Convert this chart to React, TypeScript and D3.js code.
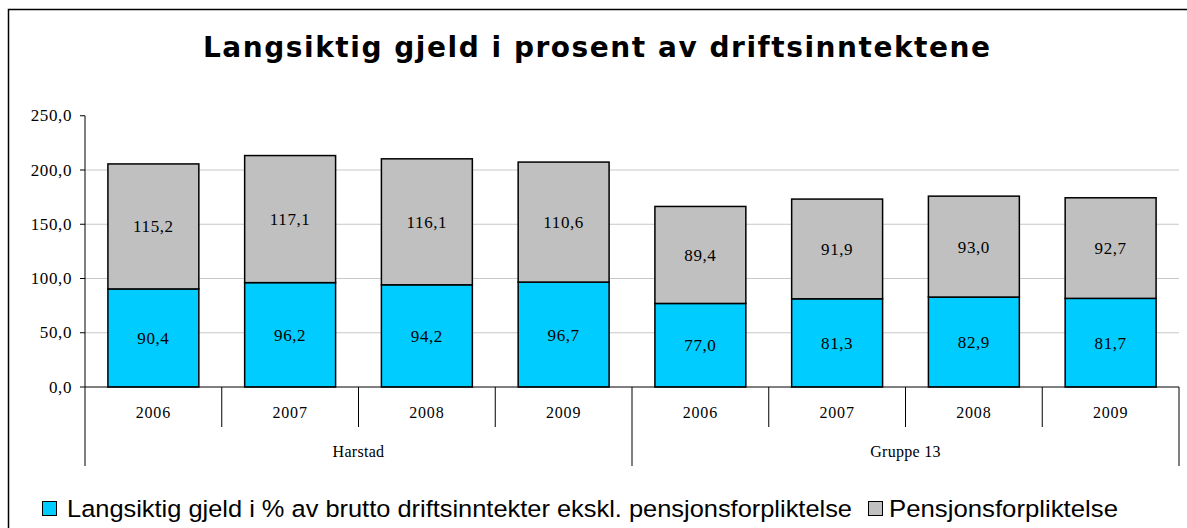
import React from "react";
import * as d3 from "d3";

const groups = ["Harstad", "Gruppe 13"];
const years = ["2006", "2007", "2008", "2009"];
const blueValues = [90.4, 96.2, 94.2, 96.7, 77.0, 81.3, 82.9, 81.7];
const grayValues = [115.2, 117.1, 116.1, 110.6, 89.4, 91.9, 93.0, 92.7];
const yTicks = [0, 50, 100, 150, 200, 250];
const seriesNames = [
  "Langsiktig gjeld i % av brutto driftsinntekter ekskl. pensjonsforpliktelse",
  "Pensjonsforpliktelse",
];
const title = "Langsiktig gjeld i prosent av driftsinntektene";

const BLUE = "#00CCFF";
const GRAY = "#C0C0C0";

const fmt = (v: number) => v.toFixed(1).replace(".", ",");

export default function App() {
  const W = 1187;
  const H = 528;
  const left = 85;
  const right = 1179;
  const y0 = 387;
  const yTop = 115.75;
  const cats = d3.range(groups.length * years.length);
  const x = d3
    .scaleBand<number>()
    .domain(cats)
    .range([left, right])
    .paddingInner(0.335)
    .paddingOuter(0.1675);
  const step = x.step();
  const y = d3.scaleLinear().domain([0, 250]).range([y0, yTop]);
  const serif = "'Liberation Serif', 'Times New Roman', serif";
  const sans = "'Liberation Sans', Arial, sans-serif";

  return (
    <svg
      width={W}
      height={H}
      style={{ position: "absolute", left: 0, top: 0, background: "#fff" }}
    >
      <rect x={0} y={0} width={W} height={H} fill="#fff" />
      <rect x={8.5} y={9.5} width={1300} height={700} fill="none" stroke="#000" strokeWidth={1.5} />
      <text
        x={596.5}
        y={57}
        textAnchor="middle"
        fontFamily="'DejaVu Sans', Verdana, sans-serif"
        fontWeight="bold"
        fontSize={28}
        textLength={787}
        lengthAdjust="spacing"
      >
        {title}
      </text>
      {/* gridlines */}
      {yTicks
        .filter((t) => t > 0 && t < 250)
        .map((t) => (
          <line key={"g" + t} x1={left} x2={right} y1={y(t)} y2={y(t)} stroke="#C8C8C8" strokeWidth={1} />
        ))}
      {/* y axis */}
      <line x1={left} x2={left} y1={yTop} y2={y0} stroke="#000" strokeWidth={1} />
      {yTicks.map((t) => (
        <g key={"t" + t}>
          <line x1={left - 5} x2={left} y1={y(t)} y2={y(t)} stroke="#000" strokeWidth={1} />
          <text
            x={72}
            y={y(t) + 5.5}
            textAnchor="end"
            fontFamily={serif}
            fontSize={17}
            letterSpacing={0.6}
          >
            {fmt(t)}
          </text>
        </g>
      ))}
      {/* bars */}
      {cats.map((i) => {
        const bx = x(i)!;
        const bw = x.bandwidth();
        const b = blueValues[i];
        const g = grayValues[i];
        return (
          <g key={"b" + i}>
            <rect x={bx} y={y(b)} width={bw} height={y(0) - y(b)} fill={BLUE} stroke="#000" strokeWidth={1.5} />
            <rect x={bx} y={y(b + g)} width={bw} height={y(b) - y(b + g)} fill={GRAY} stroke="#000" strokeWidth={1.5} />
            <text x={bx + bw / 2} y={y(b / 2) + 6} textAnchor="middle" fontFamily={serif} fontSize={17} letterSpacing={0.6}>
              {fmt(b)}
            </text>
            <text x={bx + bw / 2} y={y(b + g / 2) + 6} textAnchor="middle" fontFamily={serif} fontSize={17} letterSpacing={0.6}>
              {fmt(g)}
            </text>
          </g>
        );
      })}
      {/* category axis */}
      <line x1={left} x2={right} y1={y0} y2={y0} stroke="#000" strokeWidth={1} />
      {cats.map((i) => {
        const cx = left + step * i;
        return (
          <g key={"c" + i}>
            {i % years.length !== 0 && (
              <line x1={cx} x2={cx} y1={y0} y2={427} stroke="#000" strokeWidth={1} />
            )}
            <text
              x={cx + step / 2}
              y={418}
              textAnchor="middle"
              fontFamily={serif}
              fontSize={16}
              letterSpacing={0.8}
            >
              {years[i % years.length]}
            </text>
          </g>
        );
      })}
      {d3.range(groups.length + 1).map((k) => {
        const gx = left + step * years.length * k;
        return <line key={"gl" + k} x1={gx} x2={gx} y1={y0} y2={466} stroke="#000" strokeWidth={1} />;
      })}
      {groups.map((gname, k) => (
        <text
          key={gname}
          x={left + step * years.length * (k + 0.5)}
          y={457}
          textAnchor="middle"
          fontFamily={serif}
          fontSize={16}
          letterSpacing={0.3}
        >
          {gname}
        </text>
      ))}
      {/* legend */}
      <rect x={42.5} y={501.5} width={14} height={14} fill={BLUE} stroke="#000" strokeWidth={1} />
      <text x={67} y={517} fontFamily={sans} fontSize={24.5} textLength={785} lengthAdjust="spacingAndGlyphs">
        {seriesNames[0]}
      </text>
      <rect x={868.5} y={501.5} width={14} height={14} fill={GRAY} stroke="#000" strokeWidth={1} />
      <text x={889} y={517} fontFamily={sans} fontSize={24.5} textLength={229} lengthAdjust="spacingAndGlyphs">
        {seriesNames[1]}
      </text>
    </svg>
  );
}
